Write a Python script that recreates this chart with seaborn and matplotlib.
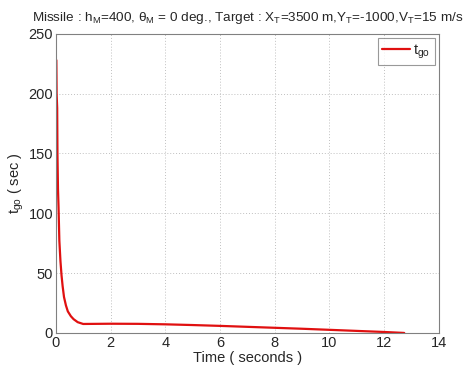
import matplotlib
matplotlib.use("Agg")
import matplotlib.pyplot as plt
import seaborn as sns
import pandas as pd

time_s = [0.02, 0.03, 0.05, 0.06, 0.08, 0.10, 0.13, 0.17, 0.21, 0.25, 0.30, 0.37,
          0.44, 0.55, 0.65, 0.80, 1.0, 1.5, 2, 3, 4, 5, 6, 7, 8, 9, 10, 11, 12, 12.73]
tgo = [228, 200, 188, 150, 120, 105, 77, 60, 48, 39, 30, 23,
       18, 14, 11.5, 9, 7.5, 7.6, 7.7, 7.6, 7.2, 6.6, 5.9, 5.1, 4.3, 3.5, 2.6, 1.7, 0.8, 0]
x_ticks = [0, 2, 4, 6, 8, 10, 12, 14]
y_ticks = [0, 50, 100, 150, 200, 250]

sns.set_style("white")
plt.rcParams['font.family'] = ['Liberation Sans', 'DejaVu Sans']
plt.rcParams['mathtext.fontset'] = 'custom'
plt.rcParams['mathtext.rm'] = 'Liberation Sans'
plt.rcParams['mathtext.it'] = 'Liberation Sans'
plt.rcParams['mathtext.default'] = 'regular'

df = pd.DataFrame({"t": time_s, "tgo": tgo})

fig = plt.figure(figsize=(4.65, 3.72), dpi=100)
ax = fig.add_axes([0.120, 0.105, 0.824, 0.804])
sns.lineplot(data=df, x="t", y="tgo", ax=ax, color="#e01010", linewidth=1.6,
             sort=False, estimator=None, label="$t_{go}$")

ax.set_xlim(0, 14)
ax.set_ylim(0, 250)
ax.set_xticks(x_ticks)
ax.set_yticks(y_ticks)
ax.tick_params(axis='both', labelsize=10.5, direction='in', length=3, color='#808080', pad=2)
for s in ax.spines.values():
    s.set_color('#808080')
    s.set_linewidth(0.8)
ax.grid(True, linestyle=(0, (1, 2)), color='#c0c0c0', linewidth=0.7)
ax.set_xlabel("Time ( seconds )", fontsize=10.5, labelpad=1)
ax.set_ylabel("$t_{go}$ ( sec )", fontsize=10.5, labelpad=2)
ax.set_title("Missile : h$_M$=400, $\\theta_M$ = 0 deg., Target : X$_T$=3500 m,Y$_T$=-1000,V$_T$=15 m/s",
             fontsize=9.7, pad=9)
leg = ax.legend(loc='upper right', fontsize=10.5, frameon=True, fancybox=False,
                handlelength=1.9, borderaxespad=0.3, handletextpad=0.2, borderpad=0.3)
leg.get_frame().set_edgecolor('#808080')
leg.get_frame().set_linewidth(0.8)

fig.savefig("out.png", dpi=100)
